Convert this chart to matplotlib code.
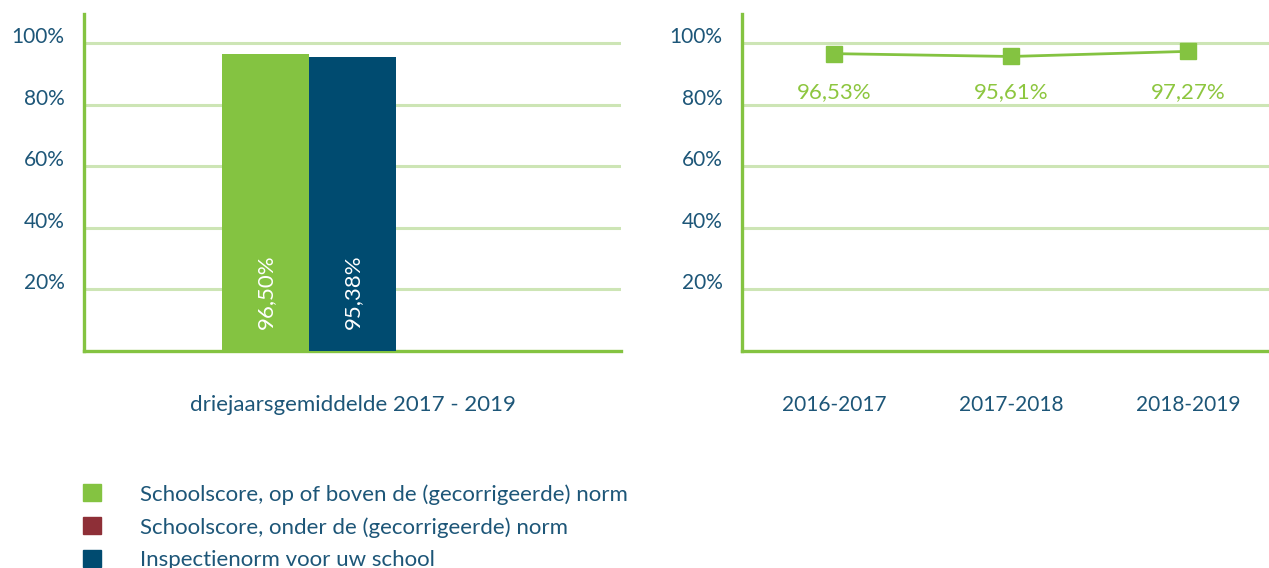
import matplotlib.pyplot as plt
import numpy as np
from matplotlib.patches import Patch

plt.rcParams['font.family'] = ['Lato', 'DejaVu Sans']

# data
group_label = ['driejaarsgemiddelde 2017 - 2019']
series_names = ['Schoolscore, op of boven de (gecorrigeerde) norm',
                'Schoolscore, onder de (gecorrigeerde) norm',
                'Inspectienorm voor uw school']
bar_values = [96.50, np.nan, 95.38]
bar_texts = ['96,50%', '', '95,38%']

years = ['2016-2017', '2017-2018', '2018-2019']
trend = [96.53, 95.61, 97.27]
trend_texts = ['96,53%', '95,61%', '97,27%']

green = '#84c341'
red = '#8e2f37'
blue = '#004b70'
text_blue = '#1d5678'
grid_green = '#cde5b5'
label_green = '#8dc63f'
colors = [green, red, blue]

fig = plt.figure(figsize=(12.69, 5.68), dpi=100)
ax1 = fig.add_axes([84/1269, 1-351/568, (621-84)/1269, (351-14)/568])
ax2 = fig.add_axes([742/1269, 1-351/568, (1269-742)/1269, (351-14)/568])


def style(ax):
    ax.set_ylim(0, 109.4)
    ax.set_yticks([20, 40, 60, 80, 100])
    ax.set_yticklabels(['20%', '40%', '60%', '80%', '100%'], va='baseline')
    ax.yaxis.grid(True, color=grid_green, linewidth=2.2)
    ax.set_axisbelow(True)
    for s in ['top', 'right']:
        ax.spines[s].set_visible(False)
    for s in ['left', 'bottom']:
        ax.spines[s].set_color(green)
        ax.spines[s].set_linewidth(2.4)
    ax.tick_params(axis='both', length=0, labelsize=15, labelcolor=text_blue)
    ax.tick_params(axis='y', pad=14)
    ax.tick_params(axis='x', pad=32)


style(ax1)
style(ax2)

# bar chart: green and blue side by side, red slot empty
w = 87/537
pos = [-w, w, 0]
ax1.set_xlim(-0.5, 0.5)
for p, v, c, t in zip(pos, bar_values, colors, bar_texts):
    if np.isnan(v):
        continue
    ax1.bar(p, v, width=w, color=c, zorder=3)
    ax1.annotate(t, (p, 0), xytext=(0, 16), textcoords='offset points',
                 rotation=90, ha='center', va='bottom', color='white',
                 fontsize=16, zorder=4)
ax1.set_xticks([0])
ax1.set_xticklabels(group_label, fontsize=16)

# line chart
x = np.arange(len(years))
ax2.set_xlim(-0.52, 2.458)
ax2.plot(x, trend, color=green, linewidth=2, marker='s', markersize=11,
         zorder=3, clip_on=False)
for xi, t in zip(x, trend_texts):
    ax2.annotate(t, (xi, 84), ha='center', va='center',
                 color=label_green, fontsize=16)
ax2.set_xticks(x)
ax2.set_xticklabels(years)

handles = [Patch(color=c) for c in colors]
fig.legend(handles, series_names, loc='upper left',
           bbox_to_anchor=(83/1269, 1-484/568), frameon=False,
           borderaxespad=0, borderpad=0, fontsize=16,
           handlelength=0.81, handleheight=0.81, handletextpad=1.75,
           labelspacing=0.56, labelcolor=text_blue)

fig.savefig('out.png', dpi=100)
